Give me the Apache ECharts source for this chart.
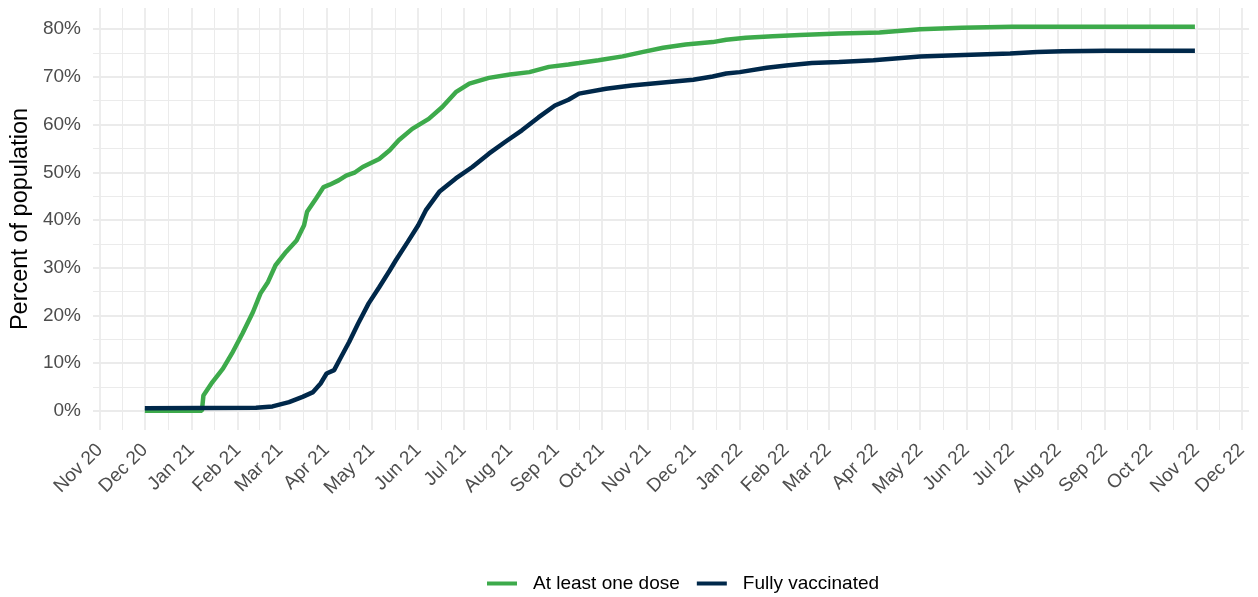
<!DOCTYPE html>
<html>
<head>
<meta charset="utf-8">
<script src="https://cdn.jsdelivr.net/npm/echarts@6/dist/echarts.min.js"></script>
<style>
  html, body { margin: 0; padding: 0; background: #fff; }
  #chart { width: 1258px; height: 597px; }
</style>
</head>
<body>
<div id="chart"></div>
<script>
// data (percent of population)
const oneDoseDates = [
  '2020-12-01', '2021-01-08', '2021-01-09', '2021-01-15', '2021-01-22', '2021-01-28',
  '2021-02-04', '2021-02-11', '2021-02-16', '2021-02-21', '2021-02-26', '2021-03-05',
  '2021-03-12', '2021-03-17', '2021-03-19', '2021-03-25', '2021-03-30', '2021-04-03',
  '2021-04-09', '2021-04-14', '2021-04-20', '2021-04-25', '2021-05-06', '2021-05-13',
  '2021-05-19', '2021-05-28', '2021-06-08', '2021-06-17', '2021-06-26', '2021-07-05',
  '2021-07-18', '2021-08-01', '2021-08-14', '2021-08-27', '2021-09-09', '2021-09-16',
  '2021-09-29', '2021-10-15', '2021-10-28', '2021-11-11', '2021-11-26', '2021-12-14',
  '2021-12-23', '2022-01-05', '2022-01-23', '2022-02-10', '2022-03-08', '2022-04-04',
  '2022-05-01', '2022-05-29', '2022-07-01', '2022-10-31'
]
const oneDoseValues = [
  0, 0, 3.2, 6.0, 8.8, 12.0,
  16.2, 20.7, 24.6, 27.0, 30.5, 33.3,
  35.7, 38.9, 41.7, 44.5, 46.9, 47.4,
  48.3, 49.3, 50.0, 51.1, 52.8, 54.6,
  56.7, 59.1, 61.2, 63.7, 66.8, 68.6,
  69.8, 70.5, 71.0, 72.1, 72.6, 72.9,
  73.5, 74.3, 75.2, 76.1, 76.8, 77.3,
  77.8, 78.2, 78.5, 78.8, 79.1, 79.3,
  80.0, 80.3, 80.5, 80.5
]

const fullyDates = [
  '2020-12-01', '2021-02-13', '2021-02-24', '2021-03-07', '2021-03-16', '2021-03-23',
  '2021-03-28', '2021-04-01', '2021-04-06', '2021-04-10', '2021-04-16', '2021-04-22',
  '2021-04-29', '2021-05-06', '2021-05-13', '2021-05-17', '2021-05-25', '2021-06-01',
  '2021-06-06', '2021-06-15', '2021-06-26', '2021-07-07', '2021-07-18', '2021-07-29',
  '2021-08-09', '2021-08-20', '2021-08-31', '2021-09-09', '2021-09-16', '2021-10-04',
  '2021-10-21', '2021-11-13', '2021-12-01', '2021-12-14', '2021-12-23', '2022-01-01',
  '2022-01-19', '2022-02-01', '2022-02-18', '2022-03-08', '2022-03-31', '2022-05-01',
  '2022-05-30', '2022-06-30', '2022-07-18', '2022-08-04', '2022-09-01', '2022-10-31'
]
const fullyValues = [
  0.5, 0.6, 0.9, 1.8, 2.9, 3.9,
  5.7, 7.8, 8.5, 10.9, 14.4, 18.3,
  22.5, 25.9, 29.4, 31.5, 35.4, 38.9,
  42.0, 45.9, 48.7, 51.1, 53.9, 56.4,
  58.8, 61.5, 64.0, 65.2, 66.5, 67.5,
  68.2, 68.9, 69.4, 70.1, 70.7, 71.0,
  71.9, 72.4, 72.9, 73.1, 73.5, 74.3,
  74.6, 74.9, 75.2, 75.4, 75.5, 75.5
]

const seriesNames = ['At least one dose', 'Fully vaccinated']
const seriesColors = ['#3DAA4B', '#00284A']

// axis ticks
const monthTicks = [
  '2020-11-01', '2020-12-01', '2021-01-01', '2021-02-01', '2021-03-01', '2021-04-01',
  '2021-05-01', '2021-06-01', '2021-07-01', '2021-08-01', '2021-09-01', '2021-10-01',
  '2021-11-01', '2021-12-01', '2022-01-01', '2022-02-01', '2022-03-01', '2022-04-01',
  '2022-05-01', '2022-06-01', '2022-07-01', '2022-08-01', '2022-09-01', '2022-10-01',
  '2022-11-01', '2022-12-01'
]
const monthNames = ['Jan', 'Feb', 'Mar', 'Apr', 'May', 'Jun', 'Jul', 'Aug', 'Sep', 'Oct', 'Nov', 'Dec']
const yTicks = [0, 10, 20, 30, 40, 50, 60, 70, 80]
const yMinorTicks = [5, 15, 25, 35, 45, 55, 65, 75]

const toTime = (s) => Date.parse(s + 'T00:00:00Z')
const majorX = monthTicks.map(toTime)
// ggplot minor breaks sit halfway between majors
const minorX = majorX.slice(1).map((t, i) => (t + majorX[i]) / 2)

const xMin = Date.parse('2020-10-27T12:00:00Z')
const xMax = Date.parse('2022-12-06T00:00:00Z')
const yMin = -4.05
const yMax = 84.45

const FONT = 'Liberation Sans, Arial, sans-serif'
const GRID_COLOR = '#EBEBEB'

const chart = echarts.init(document.getElementById('chart'), null, { renderer: 'canvas' })

const option = {
  animation: false,
  backgroundColor: '#fff',
  grid: { left: 93, right: 9, top: 8, bottom: 167 },
  legend: {
    data: seriesNames,
    top: 569,
    left: 482,
    icon: 'rect',
    itemWidth: 30,
    itemHeight: 4,
    itemGap: 17,
    textStyle: { fontFamily: FONT, fontSize: 19, color: '#000', padding: [0, 0, 0, 11] }
  },
  xAxis: [
    {
      type: 'value',
      min: xMin,
      max: xMax,
      axisLine: { show: false },
      axisTick: { show: false, customValues: majorX },
      axisLabel: {
        customValues: majorX,
        rotate: 45,
        margin: 17,
        padding: [14, 0, 0, 0],
        color: '#4D4D4D',
        fontFamily: FONT,
        fontSize: 19,
        formatter: (v) => {
          const d = new Date(v)
          return monthNames[d.getUTCMonth()] + ' ' + String(d.getUTCFullYear()).slice(2)
        }
      },
      splitLine: { show: true, lineStyle: { color: GRID_COLOR, width: 1.8 } }
    },
    {
      type: 'value',
      min: xMin,
      max: xMax,
      position: 'bottom',
      axisLine: { show: false },
      axisTick: { show: false, customValues: minorX },
      axisLabel: { show: false, customValues: minorX },
      splitLine: { show: true, lineStyle: { color: GRID_COLOR, width: 1 } }
    }
  ],
  yAxis: [
    {
      type: 'value',
      min: yMin,
      max: yMax,
      name: 'Percent of population',
      nameLocation: 'middle',
      nameRotate: 90,
      nameGap: 57,
      nameTextStyle: { fontFamily: FONT, fontSize: 23.5, color: '#000' },
      axisLine: { show: false },
      axisTick: { show: false, customValues: yTicks },
      axisLabel: {
        customValues: yTicks,
        margin: 12,
        color: '#4D4D4D',
        fontFamily: FONT,
        fontSize: 19,
        formatter: (v) => Math.round(v) + '%'
      },
      splitLine: { show: true, lineStyle: { color: GRID_COLOR, width: 1.8 } }
    },
    {
      type: 'value',
      min: yMin,
      max: yMax,
      position: 'left',
      axisLine: { show: false },
      axisTick: { show: false, customValues: yMinorTicks },
      axisLabel: { show: false, customValues: yMinorTicks },
      splitLine: { show: true, lineStyle: { color: GRID_COLOR, width: 1 } }
    }
  ],
  series: [
    {
      name: seriesNames[0],
      type: 'line',
      xAxisIndex: 0,
      yAxisIndex: 0,
      showSymbol: false,
      color: seriesColors[0],
      lineStyle: { width: 4.5, color: seriesColors[0] },
      data: oneDoseDates.map((d, i) => [toTime(d), oneDoseValues[i]])
    },
    {
      name: seriesNames[1],
      type: 'line',
      xAxisIndex: 0,
      yAxisIndex: 0,
      showSymbol: false,
      color: seriesColors[1],
      lineStyle: { width: 4.5, color: seriesColors[1] },
      data: fullyDates.map((d, i) => [toTime(d), fullyValues[i]])
    }
  ]
}

chart.setOption(option)

window.addEventListener('resize', () => {
  chart.resize()
})
</script>
</body>
</html>
